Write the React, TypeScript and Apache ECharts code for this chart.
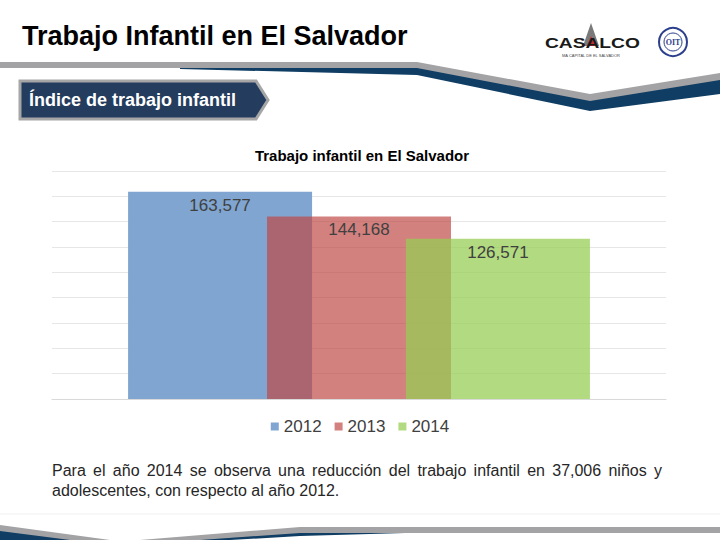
import React, { useEffect, useRef } from "react";
import * as echarts from "echarts";

const chartTitle = "Trabajo infantil en El Salvador";
const categories = [""];
const seriesNames = ["2012", "2013", "2014"];
const seriesValues = [163577, 144168, 126571];
const seriesColors = ["#7fa5d0", "rgba(191,72,70,0.69)", "rgba(151,205,83,0.74)"];
const yMin = 0;
const yMax = 180000;
const yInterval = 20000;
const headerTitle = "Trabajo Infantil en El Salvador";
const sectionLabel = "Índice de trabajo infantil";
const paragraphLine1 = "Para el año 2014 se observa una reducción del trabajo infantil en 37,006 niños y";
const paragraphLine2 = "adolescentes, con respecto al año 2012.";

const FONT = '"Liberation Sans", Arial, sans-serif';

function justifiedWords(line: string, x0: number, width: number, y: number, size: number) {
  const words = line.split(" ");
  const canvas = document.createElement("canvas");
  const ctx = canvas.getContext("2d") as CanvasRenderingContext2D;
  ctx.font = `${size}px "Liberation Sans", Arial, sans-serif`;
  const widths = words.map((w) => ctx.measureText(w).width);
  const total = widths.reduce((a, b) => a + b, 0);
  const gap = (width - total) / (words.length - 1);
  let x = x0;
  return words.map((w, i) => {
    const el = {
      type: "text",
      x,
      y,
      style: {
        text: w,
        fontSize: size,
        fontFamily: FONT,
        fill: "#262626",
        verticalAlign: "middle",
        align: "left",
      },
    };
    x += widths[i] + gap;
    return el;
  });
}

export default function App() {
  const ref = useRef<HTMLDivElement>(null);

  useEffect(() => {
    if (!ref.current) return;
    const chart = echarts.init(ref.current, undefined, { renderer: "svg" });

    const series = seriesNames.map((name, i) => ({
      name,
      type: "bar",
      data: [seriesValues[i]],
      barWidth: 184,
      barGap: "-24.5%",
      itemStyle: { color: seriesColors[i] },
      label: {
        show: true,
        position: "insideTop",
        distance: 5,
        fontSize: 17,
        fontFamily: FONT,
        color: "#404040",
        formatter: (p: any) => Number(p.value).toLocaleString("en-US"),
      },
    }));

    const dy = 4;
    const graphics: any[] = [
      {
        type: "text",
        x: 22,
        y: 36,
        style: {
          text: headerTitle,
          fontSize: 27,
          fontWeight: "bold",
          fontFamily: FONT,
          fill: "#000",
          verticalAlign: "middle",
        },
      },
      {
        type: "polygon",
        shape: {
          points: [
            [180, 63 + dy],
            [417, 63 + dy],
            [590, 96 + dy],
            [720, 75 + dy],
            [720, 90 + dy],
            [590, 107 + dy],
            [417, 71 + dy],
            [180, 65 + dy],
          ],
        },
        style: { fill: "#0f3d63" },
      },
      {
        type: "polygon",
        shape: {
          points: [
            [0, 58 + dy],
            [417, 58 + dy],
            [590, 90 + dy],
            [720, 69 + dy],
            [720, 76 + dy],
            [590, 97 + dy],
            [417, 64 + dy],
            [0, 64 + dy],
          ],
        },
        style: { fill: "#a3a3a5" },
      },
      {
        type: "polygon",
        shape: {
          points: [
            [20, 81],
            [256, 81],
            [268, 100],
            [256, 119],
            [20, 119],
          ],
        },
        style: { fill: "#243d5e", stroke: "#a6a6a6", lineWidth: 3 },
      },
      {
        type: "text",
        x: 29,
        y: 100,
        style: {
          text: sectionLabel,
          fontSize: 18,
          fontWeight: "bold",
          fontFamily: FONT,
          fill: "#ffffff",
          verticalAlign: "middle",
        },
      },
      {
        type: "polygon",
        shape: { points: [[591, 23], [599, 46], [583, 46]] },
        style: { fill: "#7a7a7a" },
      },
      {
        type: "polygon",
        shape: { points: [[591, 36], [595, 46], [587, 46]] },
        style: { fill: "#d0262b" },
      },
      {
        type: "text",
        x: 545,
        y: 43,
        scaleX: 1.28,
        style: {
          text: "CASALCO",
          fontSize: 15,
          fontWeight: "bold",
          fontFamily: FONT,
          fill: "#1a1a1a",
          verticalAlign: "middle",
        },
      },
      {
        type: "text",
        x: 591,
        y: 55,
        style: {
          text: "MA CAPITAL DE EL SALVADOR",
          fontSize: 4,
          fontFamily: FONT,
          fill: "#444",
          align: "center",
          verticalAlign: "middle",
        },
      },
      {
        type: "circle",
        shape: { cx: 673, cy: 42, r: 14 },
        style: { fill: "#fff", stroke: "#2b3f8c", lineWidth: 2 },
      },
      {
        type: "circle",
        shape: { cx: 673, cy: 42, r: 9 },
        style: { fill: "none", stroke: "#2b3f8c", lineWidth: 1 },
      },
      {
        type: "text",
        x: 673,
        y: 42,
        style: {
          text: "OIT",
          fontSize: 8,
          fontWeight: "bold",
          fontFamily: '"Liberation Serif", serif',
          fill: "#2b3f8c",
          align: "center",
          verticalAlign: "middle",
        },
      },
      ...justifiedWords(paragraphLine1, 52, 610, 470, 16),
      {
        type: "text",
        x: 52,
        y: 490,
        style: {
          text: paragraphLine2,
          fontSize: 16,
          fontFamily: FONT,
          fill: "#262626",
          verticalAlign: "middle",
        },
      },
      {
        type: "line",
        shape: { x1: 0, y1: 514, x2: 720, y2: 514 },
        style: { stroke: "#f0f0f0", lineWidth: 1 },
      },
      {
        type: "polygon",
        shape: {
          points: [
            [0, 530],
            [80, 540],
            [0, 540],
          ],
        },
        style: { fill: "#0f3d63" },
      },
      {
        type: "polygon",
        shape: {
          points: [
            [190, 540],
            [300, 532],
            [440, 532],
            [300, 536],
            [230, 540],
          ],
        },
        style: { fill: "#0f3d63" },
      },
      {
        type: "polygon",
        shape: {
          points: [
            [0, 525],
            [110, 540],
            [70, 540],
            [0, 531],
          ],
        },
        style: { fill: "#a3a3a5" },
      },
      {
        type: "polygon",
        shape: {
          points: [
            [140, 540],
            [300, 527],
            [720, 527],
            [720, 533],
            [300, 533],
            [200, 540],
          ],
        },
        style: { fill: "#a3a3a5" },
      },
    ];

    chart.setOption({
      animation: false,
      backgroundColor: "#ffffff",
      title: {
        text: chartTitle,
        left: 357,
        top: 143,
        textAlign: "center",
        textStyle: {
          fontSize: 15,
          fontWeight: "bold",
          fontFamily: FONT,
          color: "#000",
        },
      },
      legend: {
        data: seriesNames,
        left: "center",
        top: 413,
        itemWidth: 8,
        itemHeight: 8,
        itemGap: 13,
        icon: "rect",
        textStyle: { fontSize: 17, fontFamily: FONT, color: "#404040" },
      },
      grid: { left: 52, right: 54, top: 171, bottom: 141, containLabel: false },
      xAxis: {
        type: "category",
        data: categories,
        axisLine: { show: true, lineStyle: { color: "#d9d9d9" } },
        axisTick: { show: false },
        axisLabel: { show: false },
      },
      yAxis: {
        type: "value",
        min: yMin,
        max: yMax,
        interval: yInterval,
        axisLabel: { show: false },
        axisLine: { show: false },
        axisTick: { show: false },
        splitLine: { lineStyle: { color: "#e6e6e6" } },
      },
      series,
      graphic: graphics,
    });

    return () => chart.dispose();
  }, []);

  return (
    <div
      ref={ref}
      style={{ position: "fixed", left: 0, top: 0, width: 720, height: 540 }}
    />
  );
}
